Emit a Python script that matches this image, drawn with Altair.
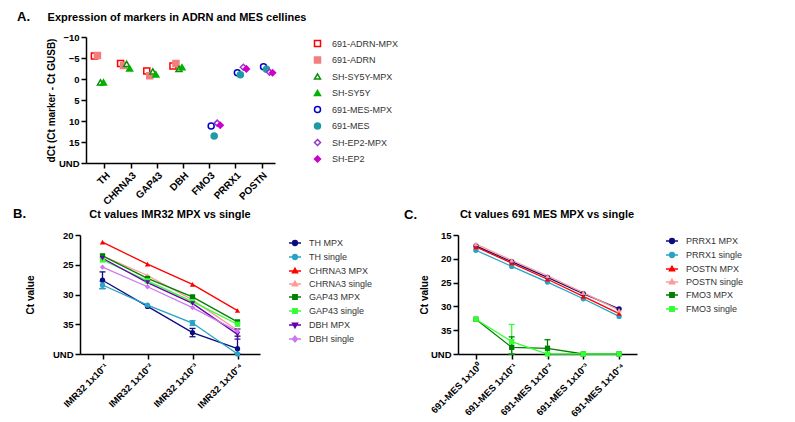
import altair as alt
import pandas as pd

FONT = "Liberation Sans"

# ---------------- Panel A data ----------------
genes_a = ["TH", "CHRNA3", "GAP43", "DBH", "FMO3", "PRRX1", "POSTN"]
series_a = ["691-ADRN-MPX", "691-ADRN", "SH-SY5Y-MPX", "SH-SY5Y",
            "691-MES-MPX", "691-MES", "SH-EP2-MPX", "SH-EP2"]
adrn_mpx = [-5.5, -3.7, -1.9, -3.1, None, None, None]
adrn = [-5.6, -3.2, -0.8, -3.7, None, None, None]
sy5y_mpx = [0.8, -3.6, -1.8, -2.4, None, None, None]
sy5y = [0.8, -2.5, -1.1, -2.8, None, None, None]
mes_mpx = [None, None, None, None, 11.2, -1.5, -2.9]
mes = [None, None, None, None, 13.6, -1.0, -2.3]
ep2_mpx = [None, None, None, None, 10.5, -2.8, -1.6]
ep2 = [None, None, None, None, 11.0, -2.4, -1.5]
ticks_a = [-10, -5, 0, 5, 10, 15, 20]  # 20 = UND
colors_a = ["#ff0000", "#f27f7f", "#0a8f0a", "#00b300",
            "#0000cc", "#1f9aa8", "#9933cc", "#cc00cc"]
fills_a = ["white", "#f27f7f", "white", "#00b300",
           "white", "#1f9aa8", "white", "#cc00cc"]
shapes_a = ["square", "square", "triangle-up", "triangle-up",
            "circle", "circle", "diamond", "diamond"]

# ---------------- Panel B data ----------------
conc_b = ["IMR32 1x10⁻¹", "IMR32 1x10⁻²", "IMR32 1x10⁻³", "IMR32 1x10⁻⁴"]
series_b = ["TH MPX", "TH single", "CHRNA3 MPX", "CHRNA3 single",
            "GAP43 MPX", "GAP43 single", "DBH MPX", "DBH single"]
th_mpx = [27.6, 32.0, 36.4, 39.1]
th_single = [28.4, 31.8, 34.8, 40.0]
chrna3_mpx = [21.2, 24.9, 28.3, 32.7]
chrna3_single = [23.5, 26.8, 30.9, 36.0]
gap43_mpx = [23.5, 27.3, 30.4, 34.6]
gap43_single = [24.2, 27.7, 31.2, 35.0]
dbh_mpx = [23.9, 28.0, 31.5, 36.7]
dbh_single = [25.4, 28.7, 32.2, 36.2]
err_b_series = ["TH MPX", "TH single", "TH MPX", "TH single", "TH MPX", "DBH MPX"]
err_b_conc = ["IMR32 1x10⁻¹", "IMR32 1x10⁻¹", "IMR32 1x10⁻³", "IMR32 1x10⁻³",
              "IMR32 1x10⁻⁴", "IMR32 1x10⁻⁴"]
err_b_lo = [26.2, 27.8, 35.7, 34.4, 37.0, 35.8]
err_b_hi = [29.0, 29.0, 37.1, 35.2, 40.0, 37.5]
ticks_b = [20, 25, 30, 35, 40]  # 40 = UND
colors_b = ["#0c0c80", "#27a3c5", "#ff0000", "#ff9999",
            "#008000", "#33ff33", "#6600aa", "#cc77ee"]
shapes_b = ["circle", "circle", "triangle-up", "triangle-up",
            "square", "square", "triangle-down", "diamond"]

# ---------------- Panel C data ----------------
conc_c = ["691-MES 1x10⁰", "691-MES 1x10⁻¹", "691-MES 1x10⁻²",
          "691-MES 1x10⁻³", "691-MES 1x10⁻⁴"]
series_c = ["PRRX1 MPX", "PRRX1 single", "POSTN MPX", "POSTN single",
            "FMO3 MPX", "FMO3 single"]
prrx1_mpx = [17.3, 20.6, 23.9, 27.3, 30.5]
prrx1_single = [18.2, 21.6, 24.9, 28.4, 32.1]
postn_mpx = [17.5, 20.9, 24.3, 27.9, 31.5]
postn_single = [16.9, 20.3, 23.6, 27.1, 30.8]
fmo3_mpx = [32.7, 38.6, 38.8, 40.0, 40.0]
fmo3_single = [32.7, 37.4, 40.0, 40.0, 40.0]
err_c_series = ["FMO3 single", "FMO3 MPX", "FMO3 MPX"]
err_c_conc = ["691-MES 1x10⁻¹", "691-MES 1x10⁻¹", "691-MES 1x10⁻²"]
err_c_lo = [33.8, 36.4, 37.0]
err_c_hi = [40.0, 40.0, 40.0]
ticks_c = [15, 20, 25, 30, 35, 40]  # 40 = UND
colors_c = ["#0c0c80", "#27a3c5", "#ff0000", "#ff9999", "#008000", "#33ff33"]
shapes_c = ["circle", "circle", "triangle-up", "triangle-up", "square", "square"]

# legend symbols: a short line through the marker
legend_paths = {
    "circle": "M-1,0L1,0M-0.4,0A0.4,0.4,0,1,1,0.4,0A0.4,0.4,0,1,1,-0.4,0Z",
    "square": "M-1,0L1,0M-0.36,-0.36L0.36,-0.36L0.36,0.36L-0.36,0.36Z",
    "triangle-up": "M-1,0L1,0M0,-0.46L0.42,0.3L-0.42,0.3Z",
    "triangle-down": "M-1,0L1,0M0,0.46L0.42,-0.3L-0.42,-0.3Z",
    "diamond": "M-1,0L1,0M0,-0.46L0.4,0L0,0.46L-0.4,0Z",
}


def text_label(txt, dx, dy, size, align):
    return alt.Chart(pd.DataFrame({"t": [txt]})).mark_text(
        font=FONT, fontSize=size, fontWeight="bold", align=align,
        baseline="middle", color="black"
    ).encode(text="t:N", x=alt.value(dx), y=alt.value(dy))


# ---------------- Panel A ----------------
rows = []
for s, vals in zip(series_a, [adrn_mpx, adrn, sy5y_mpx, sy5y, mes_mpx, mes, ep2_mpx, ep2]):
    for g, v in zip(genes_a, vals):
        if v is not None:
            rows.append({"gene": g, "sa": s, "dct": v})
df_a = pd.DataFrame(rows)

leg_a = alt.Legend(title=None, orient="none", legendX=233, legendY=2,
                   labelFontSize=9, symbolSize=36, symbolStrokeWidth=1.5,
                   rowPadding=3.5, labelOffset=10, symbolOpacity=1)

pts_a = alt.Chart(df_a).mark_point(size=36, strokeWidth=1.5, opacity=1).encode(
    x=alt.X("gene:N", sort=genes_a, title=None,
            scale=alt.Scale(range=[6, 195], paddingInner=0.08, paddingOuter=0.15, align=0.88),
            axis=alt.Axis(labelAngle=-45, labelFontSize=10)),
    xOffset=alt.XOffset("sa:N", sort=series_a),
    y=alt.Y("dct:Q", scale=alt.Scale(domain=[-10, 20], reverse=True, nice=False, zero=False),
            axis=alt.Axis(values=ticks_a, labelExpr="datum.value >= 20 ? 'UND' : datum.label",
                          title="dCt (Ct marker - Ct GUSB)", offset=-6, titlePadding=2)),
    stroke=alt.Stroke("sa:N", sort=series_a, scale=alt.Scale(domain=series_a, range=colors_a), legend=leg_a),
    fill=alt.Fill("sa:N", sort=series_a, scale=alt.Scale(domain=series_a, range=fills_a), legend=leg_a),
    shape=alt.Shape("sa:N", sort=series_a, scale=alt.Scale(domain=series_a, range=shapes_a), legend=leg_a),
)

panel_a = alt.layer(
    pts_a,
    text_label("A.", -63, -20, 13, "left"),
    text_label("Expression of markers in ADRN and MES cellines", 97, -19, 11, "center"),
).properties(width=195, height=126)


# ---------------- line panels (B, C) ----------------
def line_panel(conc, series, data_lists, colors, shapes, err_series, err_conc, err_lo, err_hi,
               ticks, ymin, width, height, title, label, label_dx, label_dy, title_dx, title_dy,
               title_pad, leg_x, leg_y, fkey):
    rows = []
    for s, vals in zip(series, data_lists):
        for i, (c, v) in enumerate(zip(conc, vals)):
            rows.append({"c" + fkey: c, "s" + fkey: s, "ct": v, "i": i})
    df = pd.DataFrame(rows)
    df_err = pd.DataFrame({"c" + fkey: err_conc, "s" + fkey: err_series, "lo": err_lo, "hi": err_hi})

    sfield = "s%s:N" % fkey
    x = alt.X("c%s:N" % fkey, sort=conc, title=None,
              scale=alt.Scale(type="point", padding=0.5),
              axis=alt.Axis(labelAngle=-45))
    yscale = alt.Scale(domain=[ymin, 40], reverse=True, nice=False, zero=False)
    yaxis = alt.Axis(values=ticks, labelExpr="datum.value >= 40 ? 'UND' : datum.label",
                     title="Ct value", titlePadding=title_pad)
    y = alt.Y("ct:Q", scale=yscale, axis=yaxis)
    # colour scale for the drawn marks (domain listed in reverse so that it is not
    # merged with the legend below)
    col = alt.Color(sfield, scale=alt.Scale(domain=series[::-1], range=colors[::-1]), legend=None)

    layers = []
    layers.append(alt.Chart(df).mark_line(strokeWidth=1.3).encode(x=x, y=y, color=col, order="i:Q"))
    layers.append(alt.Chart(df_err).mark_rule(strokeWidth=1.3).encode(
        x=x, y=alt.Y("lo:Q", scale=yscale, axis=yaxis), y2="hi:Q", color=col))
    layers.append(alt.Chart(df_err).transform_fold(["lo", "hi"], as_=["k", "ct"]).mark_tick(
        size=6, thickness=1.3, opacity=1).encode(x=x, y=y, color=col))
    for shp in dict.fromkeys(shapes):
        members = [s for s, sh in zip(series, shapes) if sh == shp]
        layers.append(alt.Chart(df).transform_filter(
            alt.FieldOneOfPredicate(field="s" + fkey, oneOf=members)
        ).mark_point(filled=True, size=28, opacity=1, shape=shp).encode(x=x, y=y, color=col))

    leg = alt.Legend(title=None, orient="none", legendX=leg_x, legendY=leg_y,
                     labelFontSize=9, symbolSize=144, symbolStrokeWidth=1.5,
                     rowPadding=1, labelOffset=7, symbolOpacity=1)
    layers.append(alt.Chart(df).mark_point(opacity=0).encode(
        x=x, y=y,
        stroke=alt.Stroke(sfield, sort=series, scale=alt.Scale(domain=series, range=colors), legend=leg),
        fill=alt.Fill(sfield, sort=series, scale=alt.Scale(domain=series, range=colors), legend=leg),
        shape=alt.Shape(sfield, sort=series,
                        scale=alt.Scale(domain=series, range=[legend_paths[s] for s in shapes]), legend=leg),
    ))
    layers.append(text_label(label, label_dx, label_dy, 13, "left"))
    layers.append(text_label(title, title_dx, title_dy, 11, "center"))
    return alt.layer(*layers).properties(width=width, height=height)


panel_b = line_panel(conc_b, series_b,
                     [th_mpx, th_single, chrna3_mpx, chrna3_single, gap43_mpx, gap43_single, dbh_mpx, dbh_single],
                     colors_b, shapes_b, err_b_series, err_b_conc, err_b_lo, err_b_hi,
                     ticks_b, 20, 180, 119, "Ct values IMR32 MPX vs single", "B.", -67, -21, 90, -20, 17,
                     208, 1, "b")
panel_c = line_panel(conc_c, series_c,
                     [prrx1_mpx, prrx1_single, postn_mpx, postn_single, fmo3_mpx, fmo3_single],
                     colors_c, shapes_c, err_c_series, err_c_conc, err_c_lo, err_c_hi,
                     ticks_c, 15, 179, 119, "Ct values 691 MES MPX vs single", "C.", -54, -20, 89, -20, 1,
                     207, -1, "c")

spacer = alt.Chart(pd.DataFrame({"d": [0]})).mark_point(opacity=0).properties(width=10, height=10)

chart = alt.concat(panel_a, spacer, panel_b, panel_c, columns=2,
                   spacing={"row": 72, "column": 183}, bounds="flush").resolve_scale(
    color="independent", stroke="independent", fill="independent", shape="independent",
    x="independent", y="independent"
).resolve_legend(color="independent", stroke="independent", fill="independent", shape="independent")

chart = chart.properties(padding={"left": 5, "top": 3, "right": 5, "bottom": 5}).configure(
    font=FONT
).configure_view(stroke=None).configure_axis(
    domainColor="black", domainWidth=1.5, tickColor="black", tickWidth=1.5, tickSize=5,
    labelFont=FONT, labelFontSize=9.5, labelFontWeight="bold", labelColor="black", labelPadding=2,
    titleFont=FONT, titleFontSize=10, titleFontWeight="bold", titleColor="black", grid=False
).configure_legend(labelFont=FONT, labelColor="#333333")

chart.save("out.html", embed_options={"renderer": "svg", "actions": False})
